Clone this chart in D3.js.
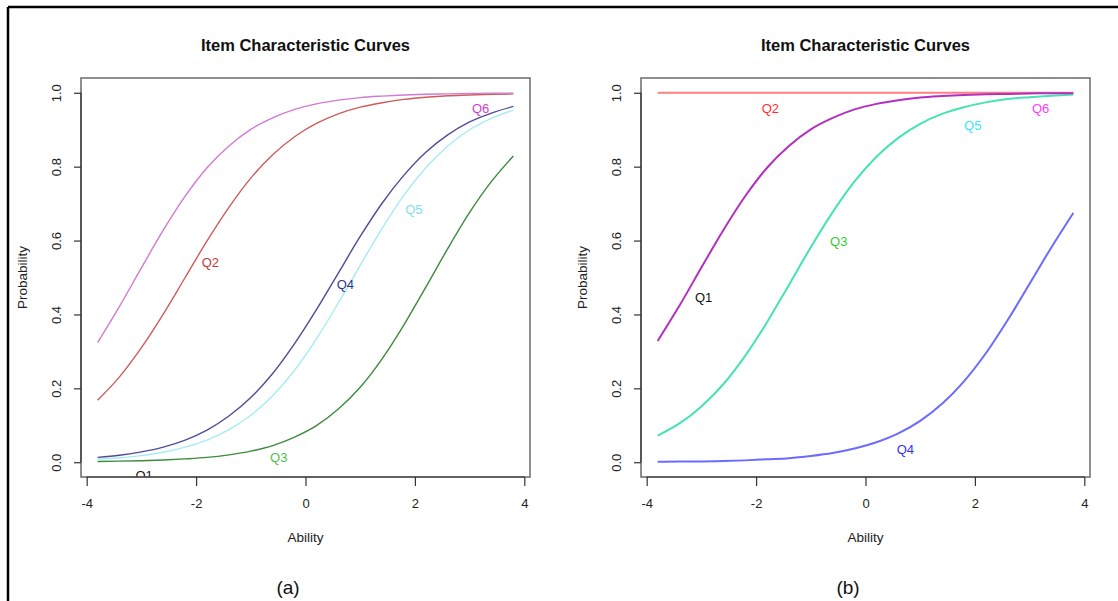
<!DOCTYPE html>
<html>
<head>
<meta charset="utf-8">
<script src="https://cdn.jsdelivr.net/npm/d3@7"></script>
<style>
  html, body { margin: 0; padding: 0; background: #fff; }
  svg text { font-family: "Liberation Sans", Arial, Helvetica, sans-serif; }
</style>
</head>
<body>
<div id="chart"></div>
<script>
const ability = [-3.8, -3.4, -3.0, -2.6, -2.2, -1.8, -1.4, -1.0, -0.6, -0.2,
                 0.2, 0.6, 1.0, 1.4, 1.8, 2.2, 2.6, 3.0, 3.4, 3.8];

// panel (a)
const aQ6 = [0.324, 0.422, 0.526, 0.628, 0.720, 0.797, 0.856, 0.901, 0.932, 0.955,
             0.970, 0.980, 0.987, 0.991, 0.994, 0.996, 0.997, 0.998, 0.999, 0.999];
const aQ2 = [0.168, 0.231, 0.310, 0.401, 0.500, 0.599, 0.690, 0.769, 0.832, 0.881,
             0.917, 0.943, 0.961, 0.973, 0.982, 0.988, 0.992, 0.994, 0.996, 0.997];
const aQ4 = [0.013, 0.019, 0.028, 0.041, 0.060, 0.087, 0.125, 0.175, 0.240, 0.321,
             0.413, 0.512, 0.611, 0.701, 0.777, 0.839, 0.886, 0.921, 0.945, 0.963];
const aQ5 = [0.008, 0.012, 0.018, 0.027, 0.041, 0.060, 0.088, 0.127, 0.180, 0.249,
             0.334, 0.431, 0.533, 0.633, 0.723, 0.797, 0.856, 0.900, 0.931, 0.953];
const aQ3 = [0.002, 0.003, 0.004, 0.006, 0.009, 0.013, 0.020, 0.030, 0.045, 0.068,
             0.099, 0.144, 0.203, 0.280, 0.372, 0.474, 0.578, 0.676, 0.760, 0.829];

// panel (b)
const bQ2 = [1, 1, 1, 1, 1, 1, 1, 1, 1, 1, 1, 1, 1, 1, 1, 1, 1, 1, 1, 1];
const bQ16 = [0.328, 0.424, 0.527, 0.628, 0.720, 0.797, 0.856, 0.901, 0.932, 0.955,
              0.970, 0.980, 0.987, 0.991, 0.994, 0.996, 0.997, 0.998, 0.999, 0.999];
const bQ35 = [0.072, 0.105, 0.151, 0.211, 0.288, 0.379, 0.480, 0.582, 0.677, 0.760,
              0.827, 0.878, 0.916, 0.943, 0.961, 0.974, 0.983, 0.988, 0.992, 0.995];
const bQ4 = [0.001, 0.002, 0.002, 0.003, 0.005, 0.008, 0.011, 0.017, 0.025, 0.037,
             0.054, 0.078, 0.112, 0.158, 0.219, 0.295, 0.385, 0.483, 0.582, 0.675];

// item labels written into the plots (ability, probability)
const aLabelNames = ["Q6", "Q2", "Q4", "Q5", "Q3", "Q1"];
const aLabelX = [3.2, -1.74, 0.73, 1.98, -0.49, -2.95];
const aLabelY = [0.958, 0.54, 0.482, 0.684, 0.013, -0.036];
const bLabelNames = ["Q2", "Q6", "Q5", "Q3", "Q1", "Q4"];
const bLabelX = [-1.74, 3.2, 1.96, -0.49, -2.96, 0.73];
const bLabelY = [0.958, 0.958, 0.912, 0.597, 0.445, 0.034];

const xTicks = [-4, -2, 0, 2, 4];
const yTicks = [0, 0.2, 0.4, 0.6, 0.8, 1.0];
const yTickLabels = ["0.0", "0.2", "0.4", "0.6", "0.8", "1.0"];

const title = "Item Characteristic Curves";

const W = 1118, H = 601;
const svg = d3.select("#chart").append("svg")
  .attr("width", W)
  .attr("height", H);

// frame of the figure (top and left only)
svg.append("line").attr("x1", 8).attr("x2", W).attr("y1", 7).attr("y2", 7)
  .attr("stroke", "#000").attr("stroke-width", 2.5);
svg.append("line").attr("x1", 8).attr("x2", 8).attr("y1", 7).attr("y2", H)
  .attr("stroke", "#000").attr("stroke-width", 2.5);

function drawPanel(opt) {
  const left = opt.left, right = opt.left + 449, top = 78, bottom = 477;
  const x = d3.scaleLinear().domain([-4.104, 4.104]).range([left, right]);
  const y = d3.scaleLinear().domain([-0.04, 1.04]).range([bottom, top]);

  const g = svg.append("g");

  const clipId = "clip" + opt.id;
  svg.append("clipPath").attr("id", clipId)
    .append("rect")
    .attr("x", left).attr("y", top)
    .attr("width", right - left).attr("height", bottom - top);

  // curves
  const line = d3.line()
    .x(d => x(d[0]))
    .y(d => y(d[1]))
    .curve(d3.curveMonotoneX);

  opt.series.forEach(s => {
    g.append("path")
      .datum(ability.map((a, i) => [a, s.values[i]]))
      .attr("d", line)
      .attr("fill", "none")
      .attr("stroke", s.color)
      .attr("stroke-width", opt.lineWidth);
  });

  // item labels
  g.append("g").attr("clip-path", `url(#${clipId})`)
    .selectAll("text")
    .data(opt.labelNames)
    .enter()
    .append("text")
    .attr("x", (d, i) => x(opt.labelX[i]))
    .attr("y", (d, i) => y(opt.labelY[i]))
    .attr("text-anchor", "middle")
    .attr("dominant-baseline", "central")
    .attr("font-size", 13)
    .attr("fill", (d, i) => opt.labelColors[i])
    .text(d => d);

  // box
  g.append("rect")
    .attr("x", left).attr("y", top)
    .attr("width", right - left).attr("height", bottom - top)
    .attr("fill", "none")
    .attr("stroke", "#6a6a6a")
    .attr("stroke-width", 1.5);

  // x axis
  const xAxis = d3.axisBottom(x).tickValues(xTicks).tickSize(9).tickSizeOuter(0)
    .tickFormat(d3.format("d"));
  const gx = g.append("g")
    .attr("transform", `translate(0, ${bottom})`)
    .call(xAxis);
  gx.select(".domain").remove();
  gx.append("line")
    .attr("x1", x(xTicks[0])).attr("x2", x(xTicks[xTicks.length - 1]))
    .attr("stroke", "#333").attr("stroke-width", 1.2);
  gx.selectAll(".tick line").attr("stroke", "#333").attr("stroke-width", 1.2);
  gx.selectAll(".tick text")
    .attr("y", 31).attr("dy", 0)
    .attr("font-size", 13)
    .attr("fill", "#222")
    .text(d => (d < 0 ? "-" + Math.abs(d) : d));

  // y axis
  const yAxis = d3.axisLeft(y).tickValues(yTicks).tickSize(7).tickSizeOuter(0)
    .tickFormat((d, i) => yTickLabels[i]);
  const gy = g.append("g")
    .attr("transform", `translate(${left}, 0)`)
    .call(yAxis);
  gy.select(".domain").remove();
  gy.append("line")
    .attr("y1", y(yTicks[0])).attr("y2", y(yTicks[yTicks.length - 1]))
    .attr("stroke", "#333").attr("stroke-width", 1.2);
  gy.selectAll(".tick line").attr("stroke", "#333").attr("stroke-width", 1.2);
  gy.selectAll(".tick text")
    .attr("x", 0).attr("dy", 0)
    .attr("text-anchor", "middle")
    .attr("transform", "translate(-20,0) rotate(-90)")
    .attr("font-size", 13)
    .attr("fill", "#222");

  const cx = (left + right) / 2;
  g.append("text")
    .attr("x", cx).attr("y", 51)
    .attr("text-anchor", "middle")
    .attr("font-size", 16.5)
    .attr("font-weight", "bold")
    .attr("fill", "#111")
    .text(title);

  g.append("text")
    .attr("x", cx).attr("y", 542)
    .attr("text-anchor", "middle")
    .attr("font-size", 13.5)
    .attr("fill", "#222")
    .text("Ability");

  g.append("text")
    .attr("transform", `translate(${left - 54}, ${(top + bottom) / 2}) rotate(-90)`)
    .attr("text-anchor", "middle")
    .attr("font-size", 13.5)
    .attr("fill", "#222")
    .text("Probability");

  g.append("text")
    .attr("x", opt.captionX).attr("y", 594)
    .attr("text-anchor", "middle")
    .attr("font-size", 19)
    .attr("fill", "#111")
    .text(opt.caption);
}

drawPanel({
  id: "a",
  left: 81,
  lineWidth: 1.4,
  series: [
    { values: aQ3, color: "#3d8a3d" },
    { values: aQ5, color: "#a6ecf2" },
    { values: aQ4, color: "#4f4b98" },
    { values: aQ2, color: "#cd5c5c" },
    { values: aQ6, color: "#d27ad2" }
  ],
  labelNames: aLabelNames,
  labelX: aLabelX,
  labelY: aLabelY,
  labelColors: ["#cc3fcc", "#c23a3a", "#2b3a86", "#7fe0ea", "#4fbf4f", "#111"],
  caption: "(a)",
  captionX: 288
});

drawPanel({
  id: "b",
  left: 641,
  lineWidth: 2,
  series: [
    { values: bQ2, color: "#ff8080" },
    { values: bQ4, color: "#6b6bff" },
    { values: bQ35, color: "#45e3b5" },
    { values: bQ16, color: "#b230bf" }
  ],
  labelNames: bLabelNames,
  labelX: bLabelX,
  labelY: bLabelY,
  labelColors: ["#ff2f2f", "#ff3cff", "#38e6ff", "#33cc33", "#111", "#2f2fff"],
  caption: "(b)",
  captionX: 848
});
</script>
</body>
</html>
